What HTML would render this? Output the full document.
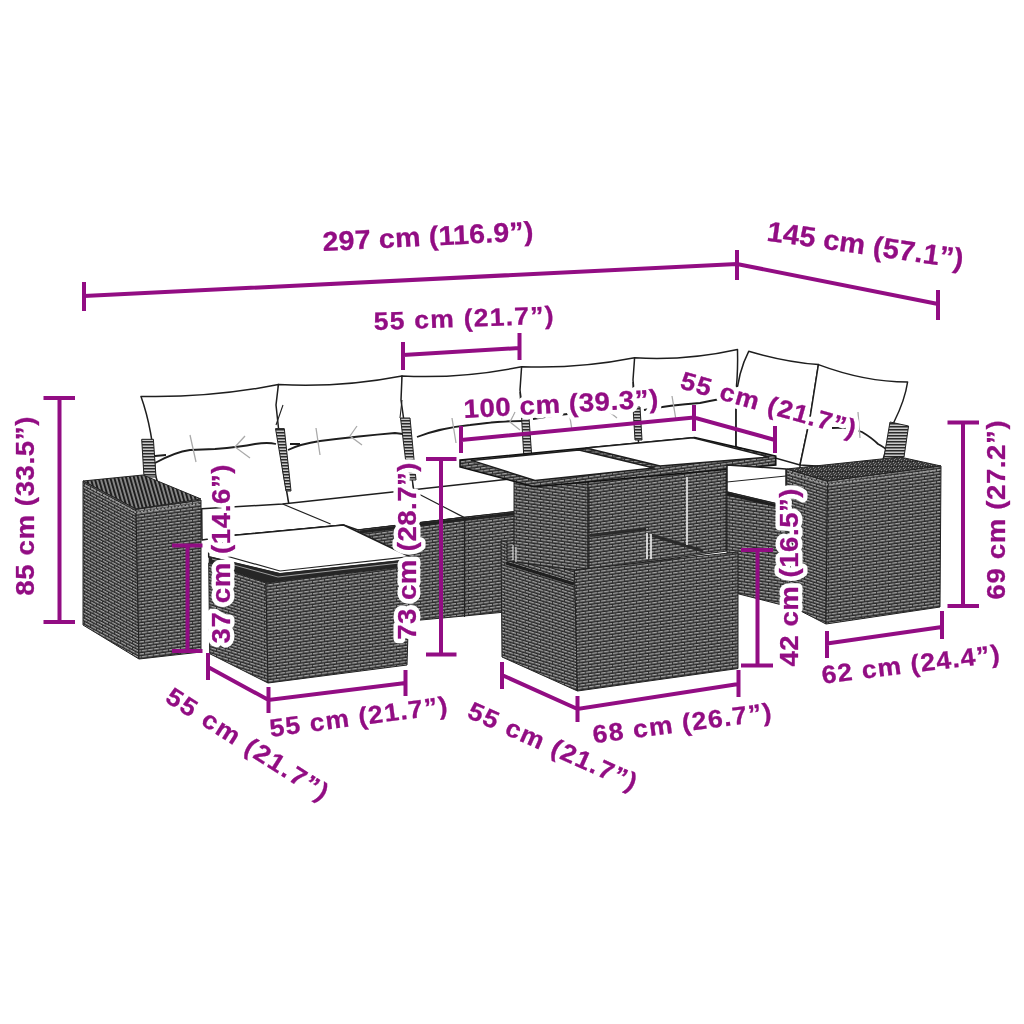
<!DOCTYPE html>
<html><head><meta charset="utf-8">
<style>
html,body{margin:0;padding:0;background:#fff;width:1024px;height:1024px;overflow:hidden}
svg{display:block;will-change:transform}
.d{font-family:"Liberation Sans",sans-serif;font-weight:bold;fill:#920d83}
.h{stroke:#fff;stroke-width:8px;stroke-linejoin:round;paint-order:stroke fill}
.ln{stroke:#920d83;stroke-width:4;fill:none}
.o{stroke:#1e1e1e;stroke-width:1.5;fill:#fff;stroke-linejoin:round}
.w{fill:url(#wk);stroke:#222;stroke-width:1}
.wd{fill:url(#wkd);stroke:#222;stroke-width:1}
</style></head><body>
<svg width="1024" height="1024" viewBox="0 0 1024 1024">
<defs>
<pattern id="wk" width="12" height="6" patternUnits="userSpaceOnUse">
<rect width="12" height="6" fill="#5e5e5e"/>
<rect y="0" width="12" height="1" fill="#262626"/>
<rect y="3" width="12" height="1" fill="#262626"/>
<rect y="1" width="12" height="1" fill="#a2a2a2"/>
<rect y="4" width="12" height="1" fill="#a2a2a2"/>
<rect x="0" y="1" width="1" height="2" fill="#333"/>
<rect x="6" y="1" width="1" height="2" fill="#333"/>
<rect x="3" y="4" width="1" height="2" fill="#333"/>
<rect x="9" y="4" width="1" height="2" fill="#333"/>
</pattern><pattern id="wkA" width="12" height="6" patternUnits="userSpaceOnUse" patternTransform="skewY(28)">
<rect width="12" height="6" fill="#5e5e5e"/>
<rect y="0" width="12" height="1" fill="#262626"/>
<rect y="3" width="12" height="1" fill="#262626"/>
<rect y="1" width="12" height="1" fill="#a2a2a2"/>
<rect y="4" width="12" height="1" fill="#a2a2a2"/>
<rect x="0" y="1" width="1" height="2" fill="#333"/>
<rect x="6" y="1" width="1" height="2" fill="#333"/>
<rect x="3" y="4" width="1" height="2" fill="#333"/>
<rect x="9" y="4" width="1" height="2" fill="#333"/>
</pattern><pattern id="wkB" width="12" height="6" patternUnits="userSpaceOnUse" patternTransform="skewY(17)">
<rect width="12" height="6" fill="#5e5e5e"/>
<rect y="0" width="12" height="1" fill="#262626"/>
<rect y="3" width="12" height="1" fill="#262626"/>
<rect y="1" width="12" height="1" fill="#a2a2a2"/>
<rect y="4" width="12" height="1" fill="#a2a2a2"/>
<rect x="0" y="1" width="1" height="2" fill="#333"/>
<rect x="6" y="1" width="1" height="2" fill="#333"/>
<rect x="3" y="4" width="1" height="2" fill="#333"/>
<rect x="9" y="4" width="1" height="2" fill="#333"/>
</pattern><pattern id="wkC" width="12" height="6" patternUnits="userSpaceOnUse" patternTransform="skewY(8)">
<rect width="12" height="6" fill="#5e5e5e"/>
<rect y="0" width="12" height="1" fill="#262626"/>
<rect y="3" width="12" height="1" fill="#262626"/>
<rect y="1" width="12" height="1" fill="#a2a2a2"/>
<rect y="4" width="12" height="1" fill="#a2a2a2"/>
<rect x="0" y="1" width="1" height="2" fill="#333"/>
<rect x="6" y="1" width="1" height="2" fill="#333"/>
<rect x="3" y="4" width="1" height="2" fill="#333"/>
<rect x="9" y="4" width="1" height="2" fill="#333"/>
</pattern><pattern id="wkF" width="12" height="6" patternUnits="userSpaceOnUse" patternTransform="skewY(-8)">
<rect width="12" height="6" fill="#5e5e5e"/>
<rect y="0" width="12" height="1" fill="#262626"/>
<rect y="3" width="12" height="1" fill="#262626"/>
<rect y="1" width="12" height="1" fill="#a2a2a2"/>
<rect y="4" width="12" height="1" fill="#a2a2a2"/>
<rect x="0" y="1" width="1" height="2" fill="#333"/>
<rect x="6" y="1" width="1" height="2" fill="#333"/>
<rect x="3" y="4" width="1" height="2" fill="#333"/>
<rect x="9" y="4" width="1" height="2" fill="#333"/>
</pattern>
<pattern id="wkd" width="3.8" height="4" patternUnits="userSpaceOnUse" patternTransform="rotate(-16)">
<rect width="3.8" height="4" fill="#8a8a8a"/>
<rect width="2" height="4" fill="#1e1e1e"/>
</pattern>
<pattern id="wkt" width="5" height="5" patternUnits="userSpaceOnUse">
<rect width="5" height="5" fill="#3c3c3c"/>
<rect x="1" y="0" width="1" height="1" fill="#888"/><rect x="3" y="2" width="1" height="1" fill="#999"/>
<rect x="0" y="3" width="1" height="1" fill="#777"/><rect x="4" y="4" width="1" height="1" fill="#888"/>
<rect x="2" y="1" width="1" height="1" fill="#1a1a1a"/><rect x="0" y="1" width="1" height="1" fill="#222"/>
</pattern>
<pattern id="wkp" width="4" height="3" patternUnits="userSpaceOnUse">
<rect width="4" height="3" fill="#c8c8c8"/>
<rect width="4" height="1.5" fill="#2a2a2a"/>
</pattern>
</defs>
<rect width="1024" height="1024" fill="#fff"/>

<!-- furniture placeholder -->
<g id="furn">
<!-- back cushions -->
<path class="o" d="M141,396.4 Q210,398 278.4,384.6 L289,505 L205,512 L160,490 L155.4,475 Q153,430 141,396.4 Z"/>
<path class="o" d="M278.4,384.6 Q340,388 402,376 L414,492 L289,505 L283,470 L276,405 Z"/>
<path class="o" d="M402,376 Q462,379 521.6,366.7 L531,480 L414,492 L401,400 Z"/>
<path class="o" d="M521.6,366.7 Q578,369 634.6,357.8 L641,470 L531,480 L520,390 Z"/>
<path class="o" d="M634.6,357.8 Q686,361 737.5,349.5 Q738,370 736.4,387 L736,447 L641,470 L633,380 Z"/>
<path class="o" d="M748.7,351.3 Q785,362 818.4,364.6 L810,418 L800,465 L736,460 L736,400 Q738,372 748.7,351.3 Z"/>
<path class="o" d="M818.4,364.6 Q865,382 907.6,382 Q905,400 894,422 L880,470 L800,465 L810,418 Z"/>
<path fill="none" stroke="#222" stroke-width="1.1" d="M736,408 V447 M283,405 L276,425 M402,400 L400,418 M520,392 L521,417 M633,382 L633,407"/>
<!-- cushion ties -->
<path fill="none" stroke="#1e1e1e" stroke-width="1.8" d="M155,463 Q175,452 190,450 L215,449 Q240,447 255,444 Q268,442 276,444 M155,456 L166,455 M288,450 Q300,444 320,441 Q360,436 395,433 L403,434 M290,444 L300,444 M417,437 Q440,428 470,425 Q500,421 522,421 M533,419 Q560,414 590,412 Q615,409 634,409 M644,410 Q670,405 700,403 Q720,399 736,396 M832,428 Q850,427 862,432 Q872,438 878,444 Q886,448 888,452"/>
<path fill="none" stroke="#aaa" stroke-width="1.3" d="M190,435 L196,462 M245,436 L235,447 L250,458 M316,428 L320,455 M357,426 L350,436 L362,445 M452,418 L456,443 M515,412 L510,422 L520,430 M568,405 L572,430 M612,400 L607,410 L617,418 M672,396 L676,420 M725,388 L720,398 L730,405 M858,412 L860,438"/>
<!-- posts -->
<path fill="url(#wkp)" stroke="#222" stroke-width="1" d="M141.7,439.3 L153.4,439.3 L156,477 L144,477 Z"/>
<path fill="url(#wkp)" stroke="#222" stroke-width="1" d="M275.5,428.6 L284.3,428.6 L291,491 L286,491 Z"/>
<path fill="url(#wkp)" stroke="#222" stroke-width="1" d="M400.5,418 L410,418 L416,480 L408,480 Z"/>
<path fill="url(#wkp)" stroke="#222" stroke-width="1" d="M521.6,417.5 L529,417.5 L532,460 L524,460 Z"/>
<path fill="url(#wkp)" stroke="#222" stroke-width="1" d="M633,407 L640,407 L642,440 L635,440 Z"/>
<path fill="url(#wkp)" stroke="#222" stroke-width="1" d="M890,422 L908.6,426 L904,457 L884,457 Z"/>
<!-- seats -->
<path class="o" d="M201.7,508.7 L282.6,504 L411,490 L520,478 L600,470 L736,447 L800,465 L800,480 L727,490 L600,520 L516,511.5 L464,517.4 L358,530 L343.5,525 L232,535.6 L202,540 Z"/>
<path fill="none" stroke="#222" stroke-width="1.2" d="M232,535.6 L343.5,525 M282.6,504 L330.6,524 M358,530 L464,517.4 M411,490 L464,517.4"/>
<!-- sofa base front -->
<path fill="url(#wkF)" stroke="#222" stroke-width="1" d="M358,530 L464,517.4 L516,511.5 L516,611 L464,616 L410,621 L360,560 Z"/>
<path fill="none" stroke="#222" stroke-width="3" d="M360,532 L464,519.5 L516,513.5"/>
<path fill="none" stroke="#222" stroke-width="1.2" d="M464.5,518 V617"/>
<!-- left box -->
<path fill="url(#wkd)" stroke="#222" stroke-width="1" d="M83,481 L143,475 L201,499 L136,509 Z"/>
<path fill="url(#wkA)" stroke="#222" stroke-width="1" d="M83,481 L136,509 L139,659 L83,625 Z"/>
<path fill="url(#wkF)" stroke="#222" stroke-width="1" d="M136,509 L201,500 L201,652 L139,659 Z"/>
<path fill="none" stroke="#9a9a9a" stroke-width="1.6" stroke-dasharray="2 1.5" d="M85,485 L136,512.5 L200,503.5"/>
<!-- ottoman -->
<path class="o" d="M208.7,551 L232,535.6 L343.5,525 L410,556.7 L410,560 L280,574 L208.7,557 Z"/>
<path fill="#262626" d="M208.7,556 L280,573 L410,559 L410,566 L266,583 L208.7,563 Z"/>
<path fill="url(#wkB)" stroke="#222" stroke-width="1" d="M208.7,563 L266,583 L268,683 L209.7,653.7 Z"/>
<path fill="url(#wkF)" stroke="#222" stroke-width="1" d="M266,583 L410,566 L407,665 L268,683 Z"/>
<path fill="none" stroke="#222" stroke-width="1.2" d="M208.7,551 L280,571 L410,556.7"/>
<path fill="none" stroke="#bbb" stroke-width="0.8" d="M212,559 L278,577 L408,562"/>
<!-- table body -->
<path fill="url(#wkC)" stroke="#222" stroke-width="1" d="M514,475 L588,480 L588,575 L514,575 Z"/>
<path fill="url(#wkF)" stroke="#222" stroke-width="1" d="M588,480 L727,462 L727,551 L588,570 Z"/>
<!-- table top -->
<path fill="url(#wkF)" stroke="#111" stroke-width="1.5" d="M460,460 L694.7,437.6 L775.8,456 L775.8,465 L534,486.7 L460,467 Z"/>
<path class="o" d="M471.6,460.4 L579,450 L654,468 L535,480.5 Z" stroke-width="1"/>
<path class="o" d="M586,448 L693,437.8 L768.7,457 L660,466 Z" stroke-width="1"/>
<path fill="none" stroke="#2a2a2a" stroke-width="3" d="M590,535.6 L646,529 M651,535 L703,551"/>
<path fill="none" stroke="#222" stroke-width="1" d="M589,487 V570 M726,473 V551"/>
<path fill="none" stroke="#f0f0f0" stroke-width="1.6" d="M687,477 V545 M647,533 V559 M651,534 V559"/>
<!-- corner seat module -->
<path class="o" d="M727,465 L786,469 L786,506 L727,492 Z" stroke-width="1"/>
<path fill="none" stroke="#222" stroke-width="1" d="M727,482 L786,476"/>
<path fill="url(#wkC)" stroke="#222" stroke-width="1" d="M727,492 L786,506 L786,606 L739,594 L727,590 Z"/>
<path fill="none" stroke="#1e1e1e" stroke-width="3" d="M727,494 L786,508"/>
<!-- front stool -->
<path fill="url(#wkB)" stroke="#222" stroke-width="1" d="M501,541 L507,541 L507,561 L574.5,570 L577.5,691 L502,657 Z"/>
<path fill="url(#wkF)" stroke="#222" stroke-width="1" d="M574.5,570 L738,552 L738,668.5 L577.5,691 Z"/>
<path fill="none" stroke="#1e1e1e" stroke-width="3" d="M506,563 L574,584"/>
<path fill="none" stroke="#ddd" stroke-width="1.2" d="M513,545 V560 M516,547 V562"/>
<!-- right box -->
<path fill="url(#wkt)" stroke="#222" stroke-width="1" d="M786.6,469 L900,457 L941,466 L827.5,481 Z"/>
<path fill="url(#wkB)" stroke="#222" stroke-width="1" d="M786.6,469 L827.5,481 L826,624 L787,604 Z"/>
<path fill="url(#wkF)" stroke="#222" stroke-width="1" d="M827.5,481 L941,466 L940,607 L826,624 Z"/>
<path fill="none" stroke="#9a9a9a" stroke-width="1.6" stroke-dasharray="2 1.5" d="M789,473 L827.5,484.5 L939,470"/>
</g>

<!-- dimension lines -->
<g class="ln">
<path d="M84,296 L737,264 L938,304"/>
<path d="M84,282 V311 M737,250 V280 M938,290 V320"/>
<path d="M403,355 L519.5,348 M403,342 V370 M519.5,333 V360"/>
<path d="M461,440 L694,417.5 L775,440 M461,426 V453 M694,405 V431 M775,426 V453"/>
<path d="M59.5,398 V622 M43.5,398 H75 M43.5,622 H75"/>
<path d="M963,422.5 V606 M947.5,422.5 H979 M947.5,606 H979"/>
<path d="M187.5,545.5 V651 M172,545.5 H202.5 M172,651 H202.5"/>
<path d="M441,459 V654.5 M426,459 H456.5 M426,654.5 H456.5"/>
<path d="M757.5,550 V665.5 M741,550 H773 M741,665.5 H773"/>
<path d="M208,667 L268.5,700 L405.5,683 M208,653 V680 M268.5,687 V713 M405.5,670 V696"/>
<path d="M502,675 L577.5,709 L738.5,684 M502,662 V689 M577.5,696 V722 M738.5,670 V697"/>
<path d="M827,643.5 L942,627 M827,631 V658 M942,611 V639"/>
</g>

<!-- dimension texts -->
<defs><g id="txt" font-size="26">
<text transform="translate(323,251) rotate(-2.9) scale(1.06,1)" textLength="199.1" lengthAdjust="spacing" font-size="27">297 cm (116.9”)</text>
<text transform="translate(766,240.5) rotate(8.1) scale(1.04,1)" textLength="190.4" lengthAdjust="spacing" font-size="28">145 cm (57.1”)</text>
<text transform="translate(374,330) rotate(-2) scale(1.06,1)" textLength="169.8" lengthAdjust="spacing" font-size="25">55 cm (21.7”)</text>
<text transform="translate(464,418) rotate(-3.1) scale(1.06,1)" textLength="184.0" lengthAdjust="spacing" font-size="26">100 cm (39.3”)</text>
<text transform="translate(679,388) rotate(15.8) scale(1.06,1)" textLength="170.8" lengthAdjust="spacing" font-size="25">55 cm (21.7”)</text>
<text transform="translate(34.3,595.7) rotate(-90) scale(1.06,1)" textLength="168.9" lengthAdjust="spacing">85 cm (33.5”)</text>
<text transform="translate(1004.5,599.4) rotate(-90) scale(1.06,1)" textLength="168.9" lengthAdjust="spacing">69 cm (27.2”)</text>
<text transform="translate(230,643.5) rotate(-90) scale(1.06,1)" textLength="168.9" lengthAdjust="spacing">37 cm (14.6”)</text>
<text transform="translate(416,639.7) rotate(-90) scale(1.06,1)" textLength="167.0" lengthAdjust="spacing">73 cm (28.7”)</text>
<text transform="translate(798,666.5) rotate(-90) scale(1.06,1)" textLength="167.9" lengthAdjust="spacing">42 cm (16.5”)</text>
<text transform="translate(164,701) rotate(32.5) scale(1.06,1)" textLength="176.4" lengthAdjust="spacing" font-size="25">55 cm (21.7”)</text>
<text transform="translate(270.7,736.9) rotate(-7.5) scale(1.06,1)" textLength="168.9" lengthAdjust="spacing" font-size="25">55 cm (21.7”)</text>
<text transform="translate(466,717) rotate(24) scale(1.06,1)" textLength="171.7" lengthAdjust="spacing" font-size="25">55 cm (21.7”)</text>
<text transform="translate(593.8,743.2) rotate(-7.4) scale(1.06,1)" textLength="169.8" lengthAdjust="spacing" font-size="25">68 cm (26.7”)</text>
<text transform="translate(822.7,683.7) rotate(-7) scale(1.06,1)" textLength="168.9" lengthAdjust="spacing" font-size="25">62 cm (24.4”)</text>
</g></defs>
<use href="#txt" class="d" style="stroke:#fff;stroke-width:9px;stroke-linejoin:round"/>
<use href="#txt" class="d" style="stroke:#920d83;stroke-width:0.3px;stroke-linejoin:round"/>
</svg>
</body></html>
